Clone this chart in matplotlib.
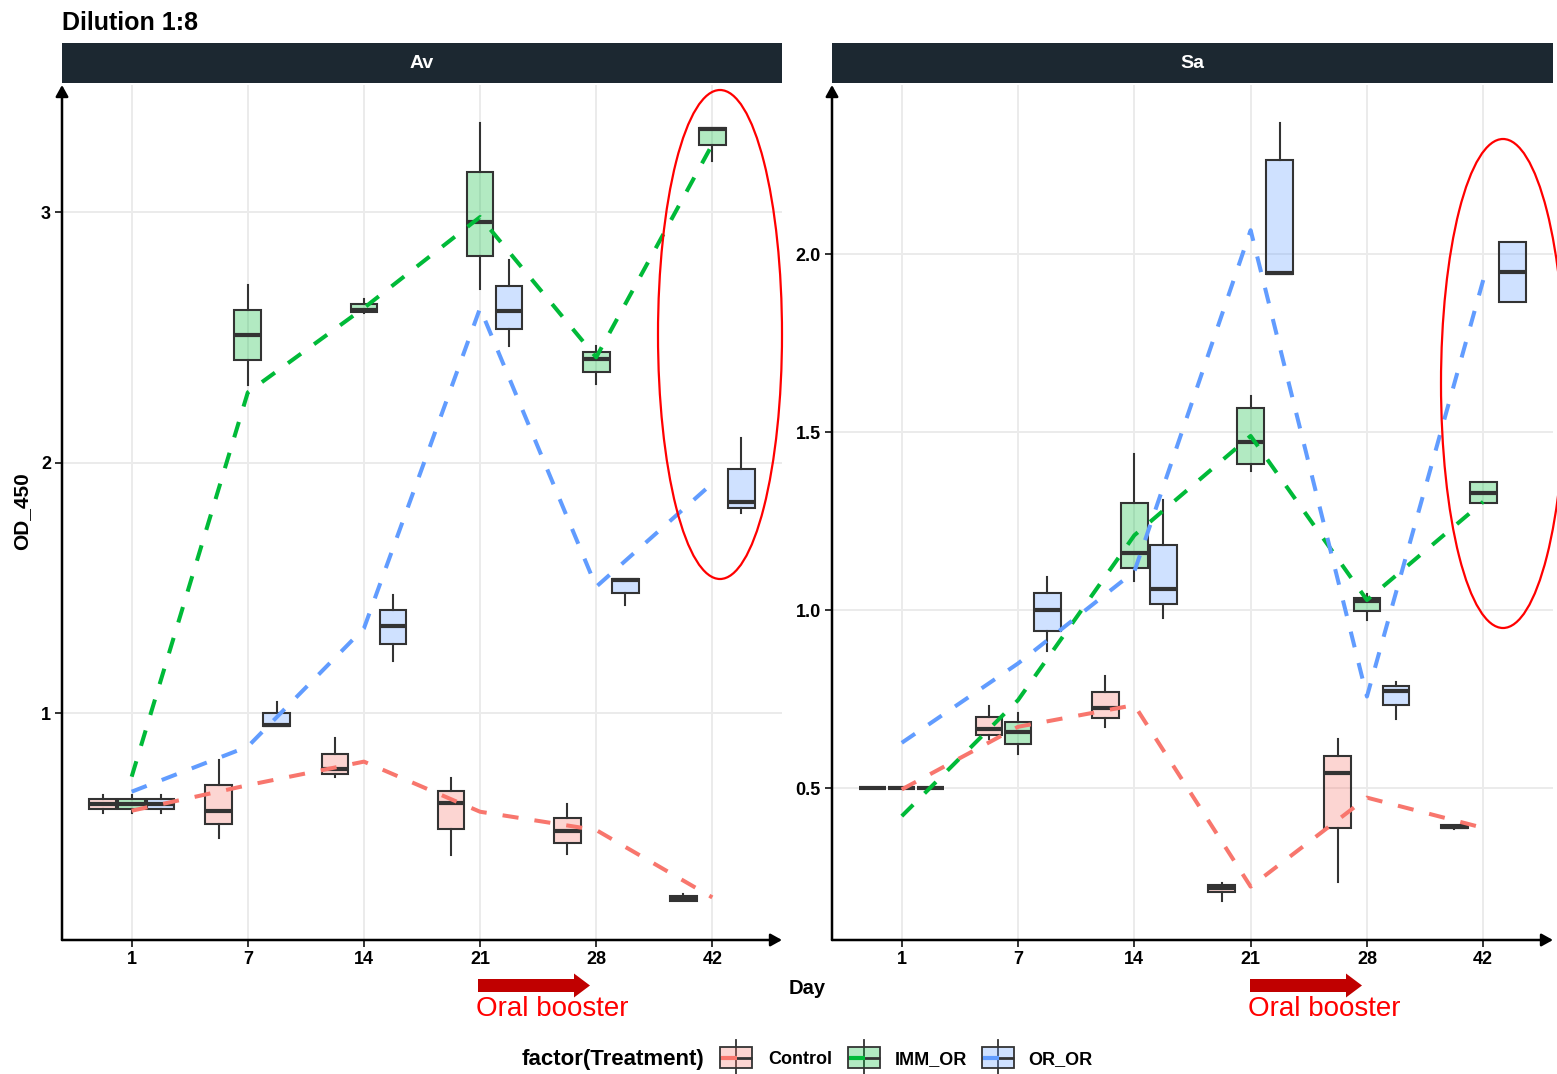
import matplotlib
matplotlib.use("Agg")
import matplotlib.pyplot as plt
from matplotlib.patches import Rectangle, Ellipse, FancyArrow
from matplotlib.colors import to_rgba

plt.rcParams['font.family'] = ['Liberation Sans', 'DejaVu Sans']

# ---------------- data ----------------
days = ["1", "7", "14", "21", "28", "42"]
treatments = ["Control", "IMM_OR", "OR_OR"]
colors = ["#F8766D", "#00BA38", "#619CFF"]
panels = ["Av", "Sa"]

# Av panel: box statistics (whisker low, q1, median, q3, whisker high) and mean line
av_control_lo  = [0.602, 0.502, 0.743, 0.433, 0.437, 0.248]
av_control_q1  = [0.618, 0.556, 0.757, 0.536, 0.480, 0.250]
av_control_med = [0.638, 0.609, 0.778, 0.642, 0.528, 0.259]
av_control_q3  = [0.657, 0.711, 0.836, 0.690, 0.581, 0.269]
av_control_hi  = [0.674, 0.814, 0.899, 0.739, 0.635, 0.277]
av_control_mean = [0.610, 0.712, 0.806, 0.606, 0.533, 0.264]

av_imm_lo  = [0.602, 2.310, 2.597, 2.694, 2.312, 3.204]
av_imm_q1  = [0.618, 2.410, 2.600, 2.826, 2.360, 3.266]
av_imm_med = [0.636, 2.510, 2.610, 2.959, 2.412, 3.330]
av_imm_q3  = [0.657, 2.610, 2.633, 3.160, 2.440, 3.334]
av_imm_hi  = [0.674, 2.710, 2.654, 3.357, 2.466, 3.336]
av_imm_mean = [0.746, 2.280, 2.617, 2.980, 2.420, 3.270]

av_or_lo  = [0.602, 0.947, 1.209, 2.466, 1.430, 1.800]
av_or_q1  = [0.618, 0.947, 1.277, 2.533, 1.479, 1.818]
av_or_med = [0.636, 0.951, 1.347, 2.603, 1.530, 1.842]
av_or_q3  = [0.655, 0.999, 1.410, 2.706, 1.535, 1.973]
av_or_hi  = [0.674, 1.044, 1.470, 2.807, 1.535, 2.099]
av_or_mean = [0.686, 0.866, 1.338, 2.616, 1.504, 1.917]

# Sa panel
sa_control_lo  = [0.500, 0.637, 0.671, 0.183, 0.236, 0.385]
sa_control_q1  = [0.500, 0.648, 0.697, 0.207, 0.388, 0.387]
sa_control_med = [0.500, 0.665, 0.724, 0.220, 0.541, 0.391]
sa_control_q3  = [0.500, 0.699, 0.770, 0.228, 0.591, 0.395]
sa_control_hi  = [0.500, 0.730, 0.815, 0.232, 0.639, 0.397]
sa_control_mean = [0.496, 0.672, 0.733, 0.223, 0.473, 0.388]

sa_imm_lo  = [0.500, 0.595, 1.081, 1.391, 0.972, 1.300]
sa_imm_q1  = [0.500, 0.625, 1.119, 1.410, 0.997, 1.300]
sa_imm_med = [0.500, 0.656, 1.161, 1.471, 1.025, 1.330]
sa_imm_q3  = [0.500, 0.685, 1.300, 1.568, 1.035, 1.359]
sa_imm_hi  = [0.500, 0.712, 1.438, 1.601, 1.044, 1.359]
sa_imm_mean = [0.421, 0.747, 1.210, 1.489, 1.028, 1.304]

sa_or_lo  = [0.500, 0.886, 0.978, 1.943, 0.695, 1.864]
sa_or_q1  = [0.500, 0.942, 1.018, 1.943, 0.732, 1.864]
sa_or_med = [0.500, 1.001, 1.059, 1.948, 0.772, 1.949]
sa_or_q3  = [0.500, 1.048, 1.184, 2.264, 0.787, 2.034]
sa_or_hi  = [0.500, 1.094, 1.309, 2.369, 0.799, 2.034]
sa_or_mean = [0.627, 0.850, 1.108, 2.067, 0.757, 1.927]

av_yticks = [1, 2, 3]
av_yticklabels = ["1", "2", "3"]
sa_yticks = [0.5, 1.0, 1.5, 2.0]
sa_yticklabels = ["0.5", "1.0", "1.5", "2.0"]

panel_data = {
    "Av": [
        (av_control_lo, av_control_q1, av_control_med, av_control_q3, av_control_hi, av_control_mean),
        (av_imm_lo, av_imm_q1, av_imm_med, av_imm_q3, av_imm_hi, av_imm_mean),
        (av_or_lo, av_or_q1, av_or_med, av_or_q3, av_or_hi, av_or_mean),
    ],
    "Sa": [
        (sa_control_lo, sa_control_q1, sa_control_med, sa_control_q3, sa_control_hi, sa_control_mean),
        (sa_imm_lo, sa_imm_q1, sa_imm_med, sa_imm_q3, sa_imm_hi, sa_imm_mean),
        (sa_or_lo, sa_or_q1, sa_or_med, sa_or_q3, sa_or_hi, sa_or_mean),
    ],
}
panel_ylim = {"Av": (0.094, 3.507), "Sa": (0.073, 2.475)}
panel_ticks = {"Av": (av_yticks, av_yticklabels), "Sa": (sa_yticks, sa_yticklabels)}

# ---------------- layout helpers ----------------
W, H = 1557, 1074
fig = plt.figure(figsize=(W / 100, H / 100), dpi=100)
fig.patch.set_facecolor("white")


def rect(x0, y0, x1, y1):
    return [x0 / W, 1 - y1 / H, (x1 - x0) / W, (y1 - y0) / H]


panel_px = {"Av": (62, 85, 782, 940), "Sa": (832, 85, 1553, 940)}
strip_px = {"Av": (62, 43, 782, 83), "Sa": (832, 43, 1553, 83)}
EDGE = "#333333"
offsets = [-0.25, 0.0, 0.25]
box_w = 0.23
xpos = list(range(len(days)))

for name in panels:
    ax = fig.add_axes(rect(*panel_px[name]))
    ax.set_xlim(-0.6, 5.6)
    ax.set_ylim(*panel_ylim[name])
    for k, tr in enumerate(treatments):
        lo, q1, med, q3, hi, mean = panel_data[name][k]
        stats = []
        for i in range(len(days)):
            stats.append(dict(whislo=lo[i], q1=q1[i], med=med[i], q3=q3[i],
                              whishi=hi[i], fliers=[], label=days[i]))
        ax.bxp(stats, positions=[p + offsets[k] for p in xpos], widths=box_w,
               patch_artist=True, showfliers=False, showcaps=False,
               manage_ticks=False,
               boxprops=dict(facecolor=to_rgba(colors[k], 0.3), edgecolor=EDGE, linewidth=1.5),
               medianprops=dict(color=EDGE, linewidth=3, solid_capstyle="butt"),
               whiskerprops=dict(color=EDGE, linewidth=1.5))
        ax.plot(xpos, mean, color=colors[k], lw=2.9, dashes=(4, 4), zorder=4)

    ax.set_xticks(xpos)
    ax.set_xticklabels(days, fontweight="bold", fontsize=13)
    yt, ytl = panel_ticks[name]
    ax.set_yticks(yt)
    ax.set_yticklabels(ytl, fontweight="bold", fontsize=13)
    ax.tick_params(axis="both", length=5, width=1.4, color=EDGE, pad=3)
    ax.grid(True, color="#EBEBEB", lw=1.4)
    ax.set_axisbelow(True)
    for s in ax.spines.values():
        s.set_visible(False)
    arrow_kw = dict(arrowstyle="-|>,head_length=0.45,head_width=0.25",
                    color="black", lw=1.8, shrinkA=0, shrinkB=0, mutation_scale=15)
    ax.annotate("", xy=(1, 0), xytext=(0, 0), xycoords="axes fraction",
                arrowprops=arrow_kw, annotation_clip=False)
    ax.annotate("", xy=(0, 1), xytext=(0, 0), xycoords="axes fraction",
                arrowprops=arrow_kw, annotation_clip=False)

    sax = fig.add_axes(rect(*strip_px[name]))
    sax.set_facecolor("#1C2831")
    sax.set_xticks([])
    sax.set_yticks([])
    for s in sax.spines.values():
        s.set_visible(False)
    sax.text(0.5, 0.5, name, color="white", fontweight="bold", fontsize=14,
             ha="center", va="center", transform=sax.transAxes)

# ---------------- overlay: texts, annotations, legend ----------------
ov = fig.add_axes([0, 0, 1, 1], zorder=10)
ov.set_xlim(0, W)
ov.set_ylim(H, 0)
ov.axis("off")
ov.patch.set_alpha(0)

ov.text(62, 30, "Dilution 1:8", fontsize=18, fontweight="bold", ha="left", va="baseline")
ov.text(22, 511, "OD_450", fontsize=15, fontweight="bold", rotation=90, ha="center", va="center")
ov.text(807, 994, "Day", fontsize=14.5, fontweight="bold", ha="center", va="baseline")

for x0 in (478, 1250):
    ov.add_patch(FancyArrow(x0, 985.5, 112, 0, width=13, head_width=24, head_length=16,
                            length_includes_head=True, color="#C00000", lw=0))
    ov.text(x0 - 2, 1016, "Oral booster", fontsize=20, color="#FF0000", ha="left", va="baseline")

ov.add_patch(Ellipse((720, 334.5), 124, 489, fill=False, edgecolor="#FF0000", lw=1.6))
ov.add_patch(Ellipse((1503, 383.5), 124, 489, fill=False, edgecolor="#FF0000", lw=1.6))

# legend
ov.text(522, 1065, "factor(Treatment)", fontsize=16, fontweight="bold", ha="left", va="baseline")
key_x = [720, 848, 982]
label_x = [768, 895, 1028]
for k, tr in enumerate(treatments):
    x0 = key_x[k]
    cx = x0 + 16
    ov.plot([cx, cx], [1040, 1075], color=EDGE, lw=1.3)
    ov.add_patch(Rectangle((x0, 1047), 32, 21, facecolor=to_rgba(colors[k], 0.3),
                           edgecolor=EDGE, lw=1.3, zorder=3))
    ov.plot([x0, x0 + 32], [1057.5, 1057.5], color=EDGE, lw=2, zorder=4, solid_capstyle="butt")
    ov.plot([x0 + 1, x0 + 17], [1057.5, 1057.5], color=colors[k], lw=3, zorder=5,
            solid_capstyle="butt")
    ov.text(label_x[k], 1064, tr, fontsize=13, fontweight="bold", ha="left", va="baseline")

fig.savefig("out.png", dpi=100)
